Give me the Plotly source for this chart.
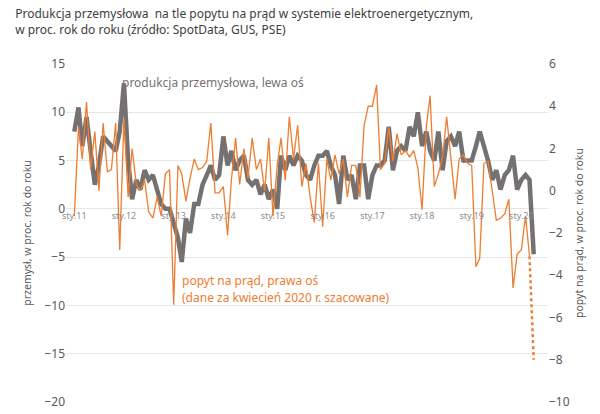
import pandas as pd
import plotly.graph_objs as go

months = pd.date_range('2011-01-01', periods=112, freq='MS')

# produkcja przemyslowa, r/r w %, lewa os
produkcja = [
    8, 10.5, 6.5, 9.5, 6, 2.5, 4.5, 7.5, 7, 6.5, 6, 8,
    13, 5, 1, 3, 2, 4, 3, 3.5, 2, 0.5, 0, 0,
    -1.5, -3, -5.5, -1, -2.5, 0.5, 0.5, 2.5, 3.5, 4.5, 3, 3.5,
    7.5, 4.5, 6, 4, 5, 5.5, 3, 2.5, 3, 1.5, 2.5, 1,
    2, 0, 5.5, 4, 5.5, 4.5, 5.5, 5, 3.5, 3, 4.5, 5.5,
    5.5, 6, 4.5, 3.5, 0.5, 5.5, 3, 3.5, 1, 4.5, 4.5, 1,
    3.5, 4.5, 4.5, 5, 8.5, 4, 6, 6.5, 6, 8.5, 7.5, 10,
    6.5, 8, 6, 5, 8, 4, 7, 7.5, 6.5, 8, 5, 5,
    5, 6.5, 8, 6.5, 5, 3, 4, 2, 3.5, 4, 5.5, 2,
    3, 3.5, 3, -4.7,
]

# popyt na prad, r/r w %, prawa os (kwiecien 2020 szacowany)
popyt = [
    -1.2, 3, 1.5, 4.2, 1, 2.8, 0, 3.2, 0.9, 1, 3.2, -2.8,
    3.4, -0.3, 2, 0.3, 0, 0.5, -1, -1.3, -0.3, -1.2, 0.8, 1,
    -5.4, 1.2, 0.8, -0.5, 0.6, 1.5, 1, 1.1, 1.4, 3.2, -0.1, -0.1,
    0.2, -2.1, 0.5, 2.5, 0.3, 2, 0.6, 2.5, 1, 1.5, 0, 2.5,
    -1.2, 1.2, 2.5, 0.5, 3.5, 1.5, 3.1, 0.2, 1.3, -0.3, -1.5, 1.3,
    -1.7, 1.5, 0.5, 1.7, 0.8, 1.5, -0.3, 1.2, 1.2, -0.3, 3.1, 4,
    4, 5, 1, 1.3, 3, 1.4, 2.7, 1.7, 1.9, 1.6, 1.9, 1.1,
    -0.9, 3, 4.5, 0.2, 0.8, 1.6, 3.5, 1.6, -0.4, 1.5, 1.7, 1.3,
    1.2, -3.6, -3.2, 1.3, 1.4, 0, -1.4, -1.3, -1.1, -0.4, -4.6, -3,
    -2.8, -1.2, -3.1, -8,
]

tick_dates = pd.date_range('2011-01-01', '2020-01-01', freq='YS')
tick_text = ['sty.%02d' % (d.year % 100) for d in tick_dates]

gray = '#767171'
orange = '#ED7D31'

fig = go.Figure()
fig.add_trace(go.Scatter(x=months, y=produkcja, mode='lines',
                         line=dict(color=gray, width=4.5), yaxis='y'))
fig.add_trace(go.Scatter(x=months[:-1], y=popyt[:-1], mode='lines',
                         line=dict(color=orange, width=1.3), yaxis='y2'))
fig.add_trace(go.Scatter(x=months[-2:], y=popyt[-2:], mode='lines',
                         line=dict(color=orange, width=2.5, dash='dot'), yaxis='y2'))

fig.update_layout(
    width=600, height=414,
    plot_bgcolor='white', paper_bgcolor='white',
    showlegend=False,
    font=dict(family='Noto Sans', color='#595959', size=11),
    margin=dict(l=58, r=60, t=56, b=16),
    title=dict(text='Produkcja przemysłowa  na tle popytu na prąd w systemie elektroenergetycznym,<br>w proc. rok do roku (źródło: SpotData, GUS, PSE)',
               x=0.012, xanchor='left', y=0.975, yanchor='top',
               font=dict(size=12, color='#404040')),
    xaxis=dict(range=['2010-11-01', '2020-07-15'], tickvals=tick_dates, ticktext=tick_text,
               showgrid=False, anchor='free', position=(398 - 203) / (398 - 56),
               tickfont=dict(size=9, color='#8c8c8c'), ticks='', showline=False),
    yaxis=dict(range=[-20, 15], dtick=5, showgrid=True, gridcolor='#e6e6e6', zeroline=False,
               tickfont=dict(size=12, color='#595959'),
               title=dict(text='przemysł, w proc. rok do roku', font=dict(size=10.5), standoff=10)),
    yaxis2=dict(range=[-10, 6], dtick=2, overlaying='y', side='right', showgrid=False,
                zeroline=False, tickfont=dict(size=12, color='#595959'),
                title=dict(text='popyt na prąd, w proc. rok do roku', font=dict(size=10.5), standoff=6)),
)

fig.add_annotation(x='2011-12-01', y=13.1, text='produkcja przemysłowa, lewa oś',
                   showarrow=False, xanchor='left', font=dict(size=12, color=gray))
fig.add_annotation(x='2013-02-15', y=-7.4, text='popyt na prąd, prawa oś',
                   showarrow=False, xanchor='left', font=dict(size=12, color=orange))
fig.add_annotation(x='2013-02-15', y=-9.2, text='(dane za kwiecień 2020 r. szacowane)',
                   showarrow=False, xanchor='left', font=dict(size=12, color=orange))

fig.write_html('out.html')
